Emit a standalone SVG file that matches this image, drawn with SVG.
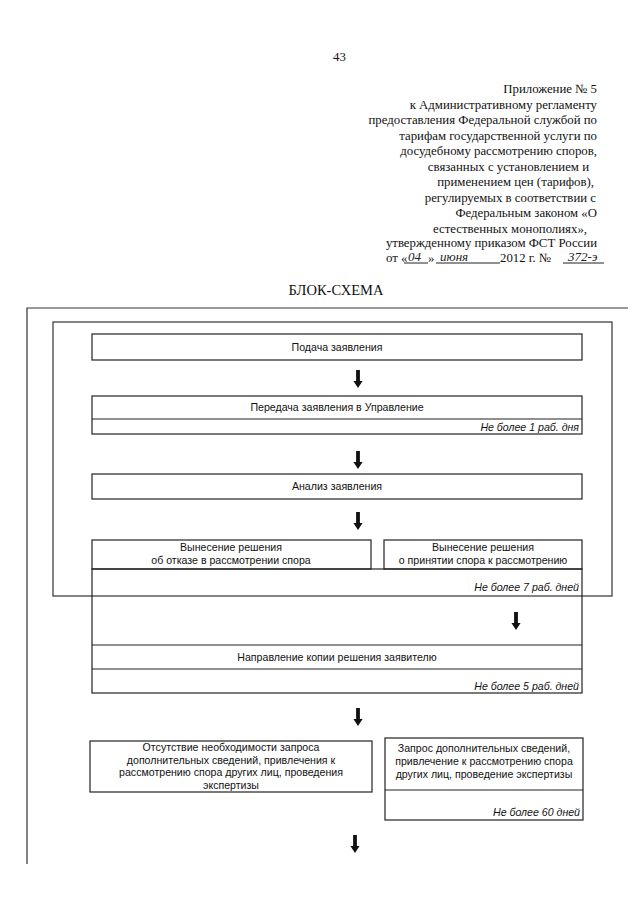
<svg xmlns="http://www.w3.org/2000/svg" width="640" height="905" viewBox="0 0 640 905">
<style>
.hdr{font-family:"Liberation Serif","Times New Roman",serif;font-size:12.8px;fill:#111}
.hw{font-family:"Liberation Serif",serif;font-style:italic;font-size:13px;fill:#222}
.t{font-family:"Liberation Sans",Arial,sans-serif;font-size:10.6px;fill:#111;text-anchor:middle}
.it{font-family:"Liberation Sans",Arial,sans-serif;font-size:10.6px;font-style:italic;fill:#111;text-anchor:end}
.box{fill:none;stroke:#222;stroke-width:1.2}
.ln{fill:none;stroke:#222;stroke-width:1.2}
.frame{fill:none;stroke:#333;stroke-width:1.2}
.arr{fill:#111}
</style>
<defs>
<path id="arrow" d="M-1.9,0 H1.9 V11 H4.6 L0,18 L-4.6,11 H-1.9 Z"/>
</defs>
<rect x="0" y="0" width="640" height="905" fill="#fff"/>

<g id="header">
<text class="hdr" x="333" y="61">43</text>
<text class="hdr" text-anchor="end" x="597" y="93">Приложение № 5</text>
<text class="hdr" text-anchor="end" x="597" y="108.5">к Административному регламенту</text>
<text class="hdr" text-anchor="end" x="597" y="124">предоставления Федеральной службой по</text>
<text class="hdr" text-anchor="end" x="597" y="139.5">тарифам государственной услуги по</text>
<text class="hdr" text-anchor="end" x="597" y="155">досудебному рассмотрению споров,</text>
<text class="hdr" text-anchor="end" x="589" y="170.5">связанных с установлением и</text>
<text class="hdr" text-anchor="end" x="594" y="186">применением цен (тарифов),</text>
<text class="hdr" text-anchor="end" x="596" y="201.5">регулируемых в соответствии с</text>
<text class="hdr" text-anchor="end" x="597" y="217">Федеральным законом «О</text>
<text class="hdr" text-anchor="end" x="587" y="232.5">естественных монополиях»,</text>
<text class="hdr" text-anchor="end" x="597" y="247">утвержденному приказом ФСТ России</text>
<text class="hdr" x="386" y="262">от «</text>
<text class="hw" x="408" y="261">04</text>
<text class="hdr" x="428" y="262">»</text>
<text class="hw" x="440" y="261">июня</text>
<text class="hdr" x="500" y="262">2012 г. №</text>
<text class="hw" x="568" y="261">372-э</text>
<path class="ln" d="M404,263 H428 M436,263 H500 M563,263 H604" stroke-width="0.8"/>
<text class="hdr" x="336" y="295" text-anchor="middle" style="font-size:14.5px">БЛОК-СХЕМА</text>
</g>

<g id="frames">
<path class="frame" d="M628,308 H27 V864"/>
<rect class="frame" x="53" y="322" width="559" height="274"/>
</g>

<g id="n1">
<rect class="box" x="92" y="334" width="490" height="26"/>
<text class="t" x="337" y="351">Подача заявления</text>
</g>

<g id="n2">
<rect class="box" x="92" y="396" width="490" height="38"/>
<line class="ln" x1="92" y1="419" x2="582" y2="419"/>
<text class="t" x="337" y="411">Передача заявления в Управление</text>
<text class="it" x="579" y="431">Не более 1 раб. дня</text>
</g>

<g id="n3">
<rect class="box" x="92" y="474" width="490" height="25"/>
<text class="t" x="337" y="490">Анализ заявления</text>
</g>

<g id="n4">
<rect class="box" x="92" y="540" width="279" height="29"/>
<text class="t" x="231" y="551">Вынесение решения</text>
<text class="t" x="231" y="564">об отказе в рассмотрении спора</text>
</g>

<g id="n5">
<rect class="box" x="384" y="540" width="198" height="29"/>
<text class="t" x="483" y="551">Вынесение решения</text>
<text class="t" x="483" y="564">о принятии спора к рассмотрению</text>
</g>

<g id="n6">
<rect class="box" x="92" y="569" width="490" height="124"/>
<line class="ln" x1="92" y1="645" x2="582" y2="645"/>
<line class="ln" x1="92" y1="669" x2="582" y2="669"/>
<text class="it" x="579" y="591">Не более 7 раб. дней</text>
<text class="t" x="337" y="661">Направление копии решения заявителю</text>
<text class="it" x="579" y="690">Не более 5 раб. дней</text>
</g>

<g id="n7">
<rect class="box" x="90" y="741" width="282" height="51"/>
<text class="t" x="231" y="751">Отсутствие необходимости запроса</text>
<text class="t" x="231" y="763.5">дополнительных сведений, привлечения к</text>
<text class="t" x="231" y="776">рассмотрению спора других лиц, проведения</text>
<text class="t" x="231" y="788.5">экспертизы</text>
</g>

<g id="n8">
<rect class="box" x="385" y="738" width="198" height="82"/>
<line class="ln" x1="385" y1="790" x2="583" y2="790"/>
<text class="t" x="484" y="752">Запрос дополнительных сведений,</text>
<text class="t" x="484" y="765">привлечение к рассмотрению спора</text>
<text class="t" x="484" y="778">других лиц, проведение экспертизы</text>
<text class="it" x="580" y="816">Не более 60 дней</text>
</g>

<g id="connectors">
<use href="#arrow" class="arr" x="358" y="370"/>
<use href="#arrow" class="arr" x="358" y="451"/>
<use href="#arrow" class="arr" x="358" y="512"/>
<use href="#arrow" class="arr" x="516" y="612"/>
<use href="#arrow" class="arr" x="358" y="708"/>
<use href="#arrow" class="arr" x="355" y="835"/>
</g>
</svg>
